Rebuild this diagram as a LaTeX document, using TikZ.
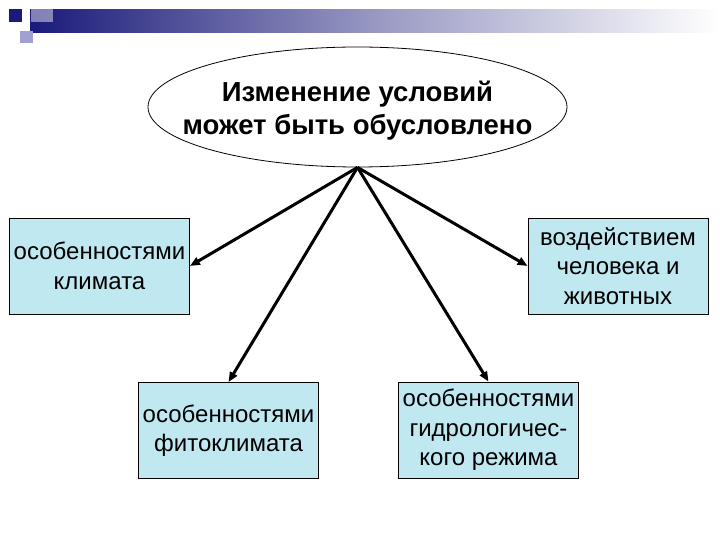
\documentclass[tikz,border=0pt]{standalone}
\usepackage{fontspec}
\setmainfont{Liberation Sans}
\usetikzlibrary{arrows.meta,shapes.geometric}
\definecolor{boxfill}{RGB}{192,232,241}
\definecolor{navy}{RGB}{26,26,122}
\definecolor{lavender}{RGB}{160,160,210}
\tikzset{
  topic/.style={draw,line width=0.8pt,ellipse,fill=white,inner sep=0pt,minimum width=419pt,minimum height=120pt},
  topictext/.style={font=\fontsize{27.5}{33}\selectfont\bfseries,align=center},
  factor/.style={draw,line width=0.8pt,fill=boxfill,minimum width=180pt,minimum height=96pt,
    font=\fontsize{24}{29.5}\selectfont,align=center,inner sep=1pt},
  link/.style={-{Triangle[length=10pt,width=8pt]},line width=3pt}
}
\begin{document}
\begin{tikzpicture}[x=1pt,y=-1pt]
\useasboundingbox (0,0) rectangle (720,540);

% Title bar
\shade[left color=navy,right color=white,middle color=navy!45] (30,10) rectangle (720,33);
\fill[white,opacity=0.45] (31,0) rectangle (53,22);
\fill[navy] (9,9) rectangle (22,22);
\fill[lavender] (20,31) rectangle (33,43);

% Main node
\node[topic] (cause) at (357.5,107) {};
\node[topictext] (causetext) at (357.5,111) {Изменение условий\\может быть обусловлено};
\coordinate (src) at (cause.south);

% Factors
\node[factor] (clim) at (99.5,266) {особенностями\\климата};
\node[factor] (phyto) at (228.5,430.5) {особенностями\\фитоклимата};
\node[factor] (hydro) at (488.5,430) {особенностями\\гидрологичес-\\кого режима};
\node[factor] (human) at (618,266) {воздействием\\человека и\\животных};

% Arrows
\draw[link] (src) -- (clim.east);
\draw[link] (src) -- (phyto.north);
\draw[link] (src) -- (hydro.north);
\draw[link] (src) -- (human.west);

\end{tikzpicture}
\end{document}
